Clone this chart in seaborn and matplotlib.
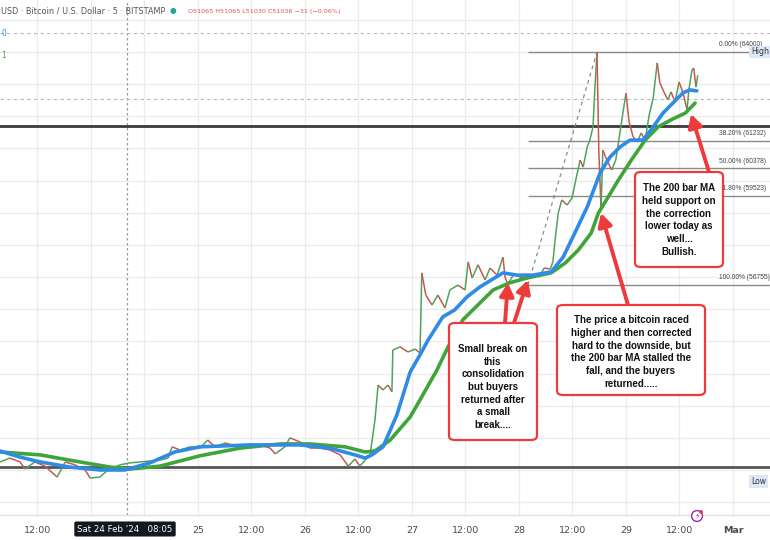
import numpy as np
import pandas as pd
import matplotlib
matplotlib.use("Agg")
import matplotlib.pyplot as plt
import seaborn as sns
from matplotlib.collections import LineCollection
from matplotlib.patches import FancyBboxPatch

# ---------------- data (hours since Fri 23 Feb 2024 00:00, price in USD) ----------------
price_hours = [3.6, 5.8, 8.1, 9.2, 11.4, 13.7, 16.4, 18.2, 20.4, 22.7,
               23.8, 26.0, 27.8, 30.5, 32.7, 35.0, 37.2, 39.5, 41.3, 42.2,
               44.0, 46.2, 48.4, 50.2, 51.8, 54.1, 56.3, 58.5, 61.9, 64.2,
               65.3, 67.5, 68.6, 70.9, 73.1, 75.4, 77.6, 79.9, 81.7, 83.2,
               84.3, 85.5, 86.6, 87.7, 88.4, 89.5, 90.6, 91.5, 91.7, 93.3,
               95.1, 96.7, 97.8, 98.2, 99.1, 100.5, 101.8, 103.4, 104.5, 106.3,
               107.9, 108.6, 109.5, 110.8, 112.4, 113.5, 115.1, 116.4, 116.9, 117.5,
               118.9, 120.2, 121.8, 123.1, 124.7, 125.6, 127.0, 127.6, 128.1, 128.8,
               129.6, 130.8, 131.9, 132.6, 133.7, 134.4, 135.3, 135.9, 136.6, 137.0,
               137.5, 137.9, 138.4, 138.8, 139.7, 140.8, 141.7, 142.4, 143.3, 144.0,
               144.7, 145.6, 146.5, 147.4, 148.3, 149.2, 150.1, 151.0, 151.6, 152.5,
               153.4, 154.1, 155.0, 155.9, 156.8, 157.7, 158.1, 158.8, 159.2, 159.7,
               160.1]
price_values = [51250, 51370, 51250, 51030, 51250, 51120, 50780, 51250, 51160, 51000,
                50750, 50780, 51000, 51160, 51220, 51250, 51280, 51310, 51370, 51720,
                51620, 51720, 51680, 51930, 51720, 51840, 51750, 51780, 51780, 51680,
                51500, 51720, 52000, 51870, 51680, 51680, 51620, 51470, 51120, 51340,
                51120, 51310, 51470, 52560, 53640, 53490, 53640, 53430, 54730, 54830,
                54670, 54760, 54640, 57130, 56440, 56130, 56440, 56040, 56600, 56750,
                56600, 57470, 56970, 57380, 56910, 57280, 57060, 57620, 56970, 56790,
                57100, 57000, 56940, 57030, 57030, 57280, 57250, 57470, 58150, 58990,
                59400, 59240, 59460, 59930, 60640, 60420, 61050, 61260, 61670, 62820,
                63990, 60950, 59090, 60950, 60640, 60330, 60640, 61260, 62100, 62720,
                61820, 61360, 61200, 61480, 61260, 62040, 62570, 63660, 63040, 62760,
                62510, 62760, 62450, 63070, 62730, 62200, 62820, 63440, 63500, 62910,
                63280]

ma_blue_hours = [3.6, 8.1, 12.6, 19.3, 26.0, 31.6, 37.2, 42.8, 48.4, 59.7,
                 70.9, 77.6, 83.2, 85.5, 87.0, 89.5, 92.6, 95.6, 97.8, 99.6,
                 102.9, 105.6, 108.3, 111.2, 116.4, 119.6, 123.1, 127.2, 129.9, 132.1,
                 135.3, 138.2, 140.4, 142.7, 144.9, 147.8, 150.1, 152.3, 154.5, 156.8,
                 158.3, 159.9]
ma_blue_values = [51590, 51400, 51250, 51090, 51000, 51000, 51220, 51560, 51720, 51780,
                  51780, 51680, 51470, 51370, 51470, 51720, 52710, 54050, 54580, 55040,
                  55760, 55980, 56380, 56690, 57130, 57060, 57060, 57160, 57620, 58250,
                  59180, 60240, 60730, 61050, 61260, 61260, 61670, 62100, 62410, 62730,
                  62820, 62790]

ma_green_hours = [3.6, 12.6, 21.5, 28.3, 32.7, 39.5, 48.4, 57.4, 66.4, 73.1,
                  81.0, 85.5, 87.7, 91.1, 95.6, 97.8, 101.6, 104.1, 107.4, 111.2,
                  114.2, 117.9, 121.7, 127.2, 130.4, 133.3, 136.2, 137.8, 140.0, 142.3,
                  145.2, 148.3, 151.2, 154.1, 157.3, 159.5]
ma_green_values = [51560, 51470, 51250, 51090, 51030, 51120, 51440, 51680, 51810, 51810,
                   51720, 51560, 51590, 51930, 52650, 53180, 54110, 54830, 55670, 56190,
                   56600, 56820, 56970, 57130, 57440, 57840, 58370, 58990, 59490, 60020,
                   60640, 61260, 61670, 61890, 62100, 62410]

fib_ratios = ["0.00%", "38.20%", "50.00%", "61.80%", "100.00%"]
fib_prices = [64000, 61232, 60378, 59523, 56755]
fib_start_hour = 122.0
fib_diag_hours = [122.0, 137.5]
fib_diag_prices = [56755, 64000]

support_level = 61700
low_level = 51090
dashed_levels = [64590, 62540]

tick_hours = [12, 24, 36, 48, 60, 72, 84, 96, 108, 120, 132, 144, 156, 168]
tick_labels = ["12:00", "", "", "25", "12:00", "26", "12:00", "27",
               "12:00", "28", "12:00", "29", "12:00", "Mar"]
cursor_hour = 32.08

# ---------------- figure ----------------
sns.set_theme(style="white")
plt.rcParams["font.family"] = ["DejaVu Sans"]

W, H = 770, 540
fig = plt.figure(figsize=(W / 100, H / 100), dpi=100)
ax = fig.add_axes([0, 25 / H, 1, 515 / H])

x_lo, x_hi = 3.59, 176.3
y_lo, y_hi = 49600, 65617
ax.set_xlim(x_lo, x_hi)
ax.set_ylim(y_lo, y_hi)

# grid
ax.set_yticks(np.arange(50000, 66000, 1000))
ax.set_yticklabels([])
ax.set_xticks(tick_hours)
ax.set_xticklabels(tick_labels)
ax.grid(True, color="#ebebeb", lw=0.9)
ax.tick_params(axis="x", length=0, pad=8, labelsize=6.8, labelcolor="#4a4a4a")
ax.tick_params(axis="y", length=0)
for lab in ax.get_xticklabels():
    if lab.get_text() == "Mar":
        lab.set_fontweight("bold")
for s in ["top", "right", "left"]:
    ax.spines[s].set_visible(False)
ax.spines["bottom"].set_color("#e0e0e0")
ax.spines["bottom"].set_linewidth(1)

# cursor & reference lines
ax.axvline(cursor_hour, color="#9a9a9a", lw=0.9, ls=(0, (2, 2)), zorder=1)
for lv in dashed_levels:
    ax.axhline(lv, color="#b8b8b8", lw=0.8, ls=(0, (3, 3)), zorder=1)
ax.axhline(support_level, color="#3a3a3a", lw=2.0, zorder=2)
ax.axhline(low_level, color="#555555", lw=2.0, zorder=2)

# fibonacci
for r, p in zip(fib_ratios, fib_prices):
    ax.hlines(p, fib_start_hour, x_hi, color="#8a8a8a", lw=1.0, zorder=2)
    ax.text(164.9, p + 120, f"{r} ({p})", fontsize=4.8, color="#444444",
            family="Liberation Sans", ha="left", va="bottom", zorder=3)
ax.plot(fib_diag_hours, fib_diag_prices, color="#8a8a8a", lw=0.9,
        ls=(0, (3, 3)), zorder=2)

# price as up/down coloured thin line
px = np.array(price_hours)
py = np.array(price_values)
segs = np.stack([np.column_stack([px[:-1], py[:-1]]),
                 np.column_stack([px[1:], py[1:]])], axis=1)
cols = ["#4ea35a" if b > a else "#c9574e" for a, b in zip(py[:-1], py[1:])]
ax.add_collection(LineCollection(segs, colors=cols, linewidths=1.1, zorder=4))

# moving averages
df_blue = pd.DataFrame({"hour": ma_blue_hours, "price": ma_blue_values})
df_green = pd.DataFrame({"hour": ma_green_hours, "price": ma_green_values})
sns.lineplot(data=df_green, x="hour", y="price", ax=ax, color="#3fa53b",
             lw=2.6, zorder=5, sort=False)
sns.lineplot(data=df_blue, x="hour", y="price", ax=ax, color="#2f8be6",
             lw=2.6, zorder=6, sort=False)
ax.set_xlabel("")
ax.set_ylabel("")

# High / Low price-scale labels
ax.text(172.0, 64000, "High", fontsize=5.6, color="#333333", ha="left",
        va="center", zorder=9,
        bbox=dict(boxstyle="square,pad=0.25", fc="#dde8f6", ec="none"))
ax.text(172.0, 50630, "Low", fontsize=5.6, color="#333333", ha="left",
        va="center", zorder=9,
        bbox=dict(boxstyle="square,pad=0.25", fc="#dde8f6", ec="none"))

# annotation boxes (axes-fraction layout)
RED = "#ee3a3a"
def note(x0, x1, y0, y1, tx, ty, text):
    box = FancyBboxPatch((x0, y0), x1 - x0, y1 - y0, transform=ax.transAxes,
                         boxstyle="round,pad=0,rounding_size=0.008",
                         fc="white", ec=RED, lw=1.6, zorder=10)
    ax.add_patch(box)
    ax.text(tx, ty, text, transform=ax.transAxes, ha="center", va="center",
            fontsize=7, fontweight="bold", family="Liberation Sans",
            color="#111111", linespacing=1.33, zorder=11)

def px2ax(x, y):
    return x / W, (515 - y) / 515

b = px2ax(449, 440); t = px2ax(537, 323); c = px2ax(493, 387)
note(b[0], t[0], b[1], t[1], c[0], c[1],
     "Small break on\nthis\nconsolidation\nbut buyers\nreturned after\na small\nbreak....")
b = px2ax(557, 395); t = px2ax(705, 305); c = px2ax(631, 352)
note(b[0], t[0], b[1], t[1], c[0], c[1],
     "The price a bitcoin raced\nhigher and then corrected\nhard to the downside, but\n"
     "the 200 bar MA stalled the\nfall, and the buyers\nreturned.....")
b = px2ax(635, 267); t = px2ax(723, 172); c = px2ax(679, 220)
note(b[0], t[0], b[1], t[1], c[0], c[1],
     "The 200 bar MA\nheld support on\nthe correction\nlower today as\nwell...\nBullish.")

arrow_targets = [(117.5, 56820), (122.0, 56910), (138.4, 58990), (158.6, 62070)]
arrow_starts_px = [(505, 323), (514, 323), (628, 305), (709, 172)]
for (hx, hy), (sx, sy) in zip(arrow_targets, arrow_starts_px):
    ax.annotate("", xy=(hx, hy), xycoords="data",
                xytext=px2ax(sx, sy), textcoords="axes fraction",
                arrowprops=dict(arrowstyle="-|>,head_length=0.55,head_width=0.3",
                                color=RED, lw=2.8, mutation_scale=14,
                                shrinkA=0, shrinkB=0),
                zorder=9)

# header
fig.text(1 / W, 1 - 11 / H, "USD · Bitcoin / U.S. Dollar · 5 · BITSTAMP",
         fontsize=5.9, color="#555555", ha="left", va="center")
fig.text(173 / W, 1 - 11 / H, "●", fontsize=5.5, color="#26a69a",
         ha="center", va="center")
fig.text(188 / W, 1 - 11 / H, "O51065 H51065 L51030 C51036 −31 (−0.06%)",
         fontsize=4.6, color="#d95555", ha="left", va="center")
fig.text(1 / W, 1 - 34 / H, "0", fontsize=5.5, color="#2f8be6", ha="left", va="center")
fig.text(1 / W, 1 - 56 / H, "1", fontsize=5.5, color="#3fa53b", ha="left", va="center")

# cursor time tooltip
fig.text(125 / W, 1 - 529 / H, "Sat 24 Feb '24   08:05", fontsize=6.2,
         color="white", ha="center", va="center",
         bbox=dict(boxstyle="round,pad=0.35,rounding_size=0.2", fc="#131722", ec="none"))

# small alert icon
fig.text(697 / W, 1 - 516 / H, "⚡", fontsize=5.5, color="#9c27b0",
         ha="center", va="center",
         bbox=dict(boxstyle="circle,pad=0.12", fc="white", ec="#9c27b0", lw=1.0))
fig.text(701 / W, 1 - 511 / H, "●", fontsize=3.5, color="#e53935",
         ha="center", va="center")

fig.savefig("out.png", dpi=100)
